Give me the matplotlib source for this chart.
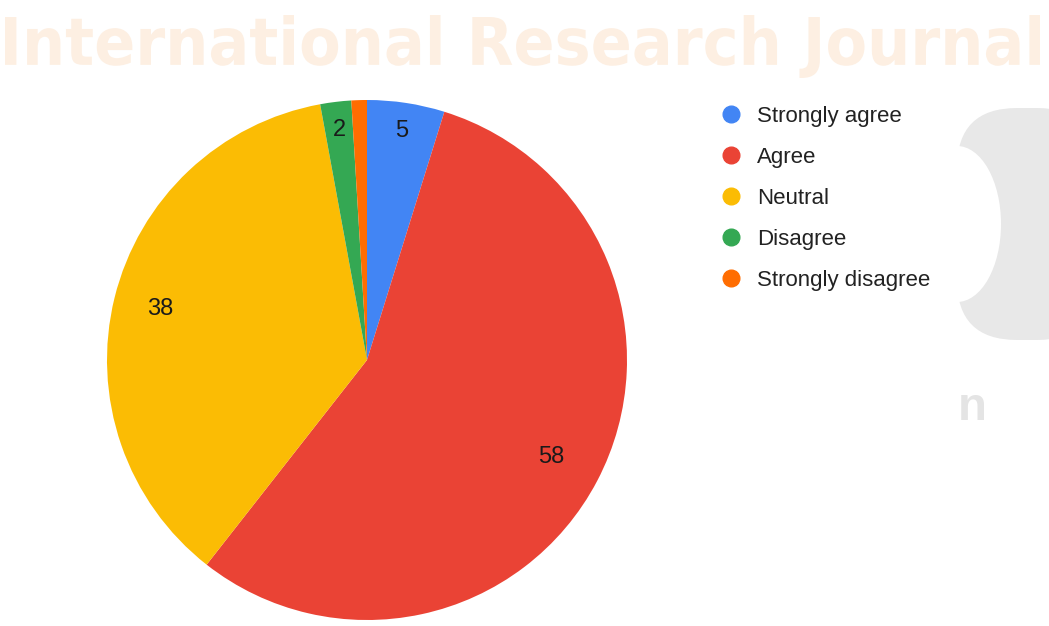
import matplotlib.pyplot as plt
from matplotlib.patches import Ellipse, FancyBboxPatch, PathPatch
from matplotlib.lines import Line2D
from matplotlib.textpath import TextPath
from matplotlib.font_manager import FontProperties
from matplotlib.transforms import Affine2D
import numpy as np

labels = ['Strongly agree', 'Agree', 'Neutral', 'Disagree', 'Strongly disagree']
counts = [5, 58, 38, 2, 1]
colors = ['#4285F4', '#EA4335', '#FBBC04', '#34A853', '#FF6D01']
# slices with fewer responses than this get no number
min_labelled = 2

plt.rcParams['font.family'] = ['Liberation Sans', 'DejaVu Sans']

fig = plt.figure(figsize=(10.49, 6.26), dpi=100)

# background layer in pixel coordinates for the journal watermark
bg = fig.add_axes([0, 0, 1, 1], zorder=0)
bg.set_xlim(0, 1049)
bg.set_ylim(626, 0)
bg.axis('off')

# banner text stretched into a fixed box (x 5..1040, y 15..78)
tp = TextPath((0, 0), 'International Research Journal', size=50,
              prop=FontProperties(family='DejaVu Sans', weight='heavy'))
ext = tp.get_extents()
sx = 1035 / ext.width
sy = 63 / ext.height
tr = Affine2D().translate(-ext.x0, -ext.y0).scale(sx, -sy).translate(5, 78)
bg.add_patch(PathPatch(tr.transform_path(tp), fc='#FDEFE2', ec='none'))

bg.add_patch(FancyBboxPatch((957, 108), 140, 232, boxstyle='round,pad=0,rounding_size=60',
                            fc='#E8E8E8', ec='none'))
bg.add_patch(Ellipse((957, 224), 88, 156, fc='white', ec='none'))
bg.text(972, 408, 'n', ha='center', va='center', fontsize=34, fontweight='bold',
        color='#E4E4E4')

ax = fig.add_axes([107 / 1049, 6 / 626, 520 / 1049, 520 / 626], zorder=1)
ax.patch.set_alpha(0)
wedges, _ = ax.pie(counts, colors=colors, startangle=90, counterclock=False,
                   wedgeprops=dict(linewidth=0))
ax.set_xlim(-1, 1)
ax.set_ylim(-1, 1)
ax.set_aspect('equal')

# label radius as a fraction of the pie radius, per slice
label_r = [0.89, 0.8, 0.82, 0.89, 0.89]
for w, n, r in zip(wedges, counts, label_r):
    if n < min_labelled:
        continue
    mid = np.deg2rad((w.theta1 + w.theta2) / 2)
    ax.text(r * np.cos(mid), r * np.sin(mid), str(n), ha='center', va='center',
            fontsize=17, color='#1a1a1a')

# circular markers instead of patches in the legend
handles = [Line2D([], [], marker='o', linestyle='none', markersize=12,
                  markerfacecolor=c, markeredgecolor=c) for c in colors]
fig.legend(handles, labels, loc='upper left', bbox_to_anchor=(709 / 1049, 1 - 97 / 626),
           frameon=False, fontsize=16, labelspacing=0.9, handletextpad=0.55,
           handlelength=1.2, borderaxespad=0, labelcolor='#222222')

fig.savefig('out.png', dpi=100)
